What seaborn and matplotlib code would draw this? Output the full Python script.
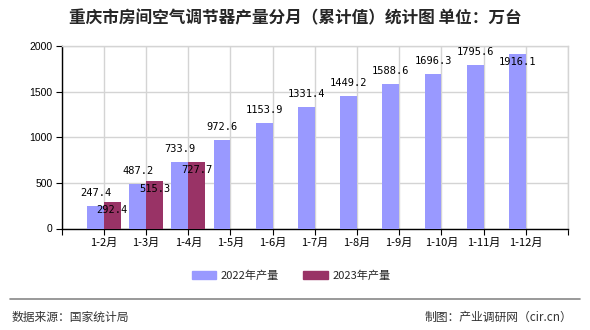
import numpy as np
import pandas as pd
import matplotlib
matplotlib.use("Agg")
import matplotlib.pyplot as plt
import seaborn as sns

months = ["1-2月", "1-3月", "1-4月", "1-5月", "1-6月", "1-7月",
          "1-8月", "1-9月", "1-10月", "1-11月", "1-12月"]
output_2022 = [247.4, 487.2, 733.9, 972.6, 1153.9, 1331.4,
               1449.2, 1588.6, 1696.3, 1795.6, 1916.1]
output_2023 = [292.4, 515.3, 727.7]
series_names = ["2022年产量", "2023年产量"]
colors = ["#9999FF", "#993366"]
y_ticks = [0, 500, 1000, 1500, 2000]

title = "重庆市房间空气调节器产量分月（累计值）统计图 单位：万台"
source = "数据来源：国家统计局"
credit = "制图：产业调研网（cir.cn）"

sns.set_theme(style="white")
plt.rcParams["font.family"] = ["Noto Sans CJK SC", "DejaVu Sans"]

rows = [(m, series_names[0], v) for m, v in zip(months, output_2022)]
rows += [(m, series_names[1], v) for m, v in zip(months, output_2023)]
df = pd.DataFrame(rows, columns=["month", "series", "value"])

fig = plt.figure(figsize=(5.9, 3.3), dpi=100)
ax = fig.add_axes([61.7 / 590, 1 - 228.5 / 330, (568 - 61.7) / 590, (228.5 - 46) / 330])

sns.barplot(data=df, x="month", y="value", hue="series", order=months,
            hue_order=series_names, palette=colors, width=0.8, saturation=1,
            edgecolor="none", linewidth=0, ax=ax, legend=False, zorder=3)

ax.set_xlim(-1, len(months))
ax.set_ylim(0, 2000)
ax.set_yticks(y_ticks)
ax.set_yticklabels([str(t) for t in y_ticks], fontsize=7.5, family="Liberation Sans")
ax.set_xticks(range(-1, len(months) + 1))
ax.set_xticklabels([""] + months + [""], fontsize=8)
ax.set_xlabel("")
ax.set_ylabel("")

ax.grid(True, axis="both", color="#d4d4d4", linewidth=1, zorder=0)
ax.set_axisbelow(True)
for side in ("top", "right"):
    ax.spines[side].set_color("#d4d4d4")
    ax.spines[side].set_linewidth(1)
for side in ("left", "bottom"):
    ax.spines[side].set_color("black")
    ax.spines[side].set_linewidth(1)
ax.tick_params(axis="both", which="major", direction="out", length=4.5, width=0.8,
               color="black", pad=2, bottom=True, left=True, labelcolor="black")

# value labels
series_values = [output_2022, output_2023]
for container, values, name in zip(ax.containers, series_values, series_names):
    bars = [b for b in container.patches if np.isfinite(b.get_height()) and b.get_height() > 0]
    for bar, val in zip(bars, values):
        cx = bar.get_x() + bar.get_width() / 2
        if name == series_names[0] and val < 1850:
            dy = 13
        else:
            dy = -8
        ax.annotate(f"{val:.1f}", (cx, val), xytext=(0, dy), textcoords="offset pixels",
                    ha="center", va="center", fontsize=7.5, family="DejaVu Sans Mono",
                    color="black", zorder=5)

# legend
handles = [plt.Rectangle((0, 0), 1, 1, color=c) for c in colors]
fig.legend(handles, series_names, loc="center", bbox_to_anchor=(291 / 590, 1 - 276 / 330),
           ncol=2, frameon=False, fontsize=8, handlelength=2.2, handleheight=0.7,
           columnspacing=2.2, handletextpad=0.4)

fig.suptitle(title, x=0.5, y=1 - 18 / 330, va="center", fontsize=12, fontweight="bold")

fig.add_artist(plt.Line2D([10 / 590, 580 / 590], [1 - 298.5 / 330] * 2,
                          transform=fig.transFigure, color="#888888", linewidth=1.2))
fig.text(12 / 590, 1 - 317 / 330, source, ha="left", va="center", fontsize=8.5, color="#333333")
fig.text(572 / 590, 1 - 317 / 330, credit, ha="right", va="center", fontsize=8.5, color="#333333")

fig.savefig("out.png", dpi=100, facecolor="white")
